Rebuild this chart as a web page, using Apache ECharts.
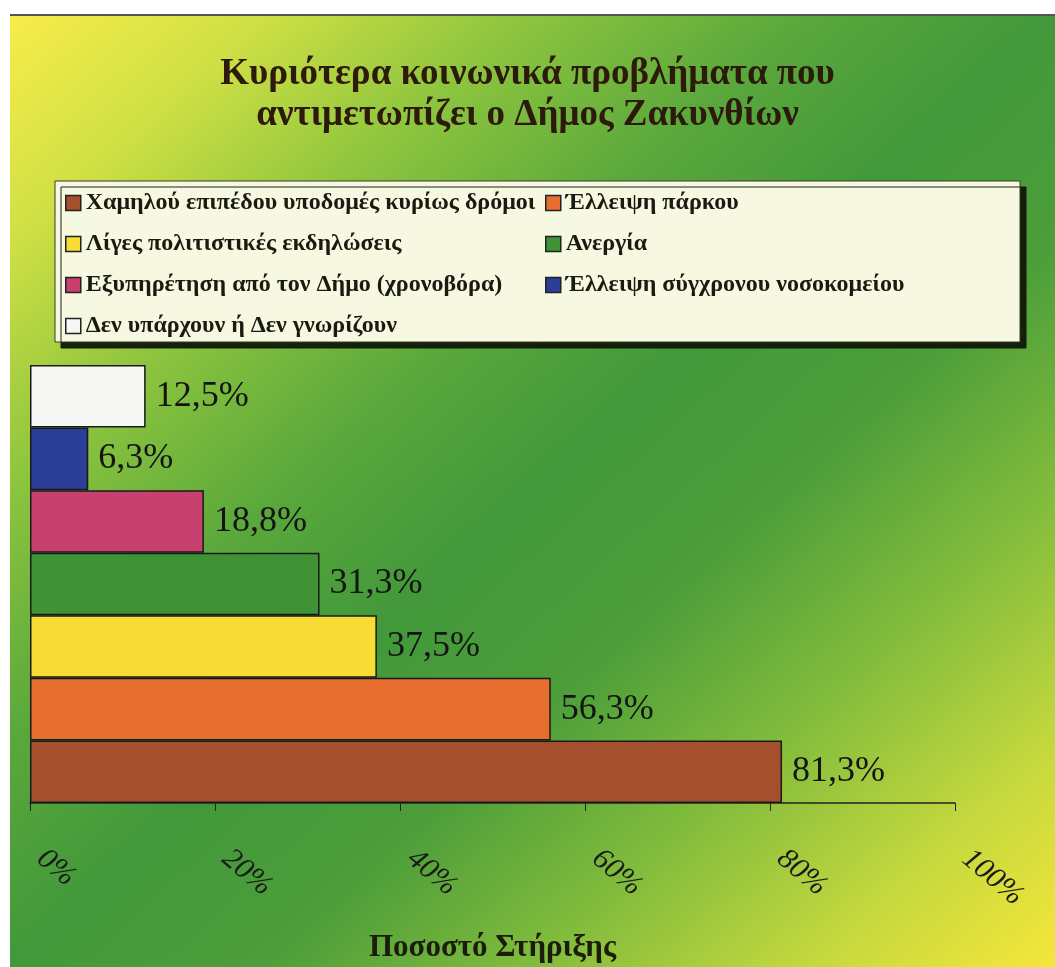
<!DOCTYPE html>
<html lang="el" style="width: 100%;height: 100%;">
<head>
    <meta charset="UTF-8">
    <title>Κυριότερα κοινωνικά προβλήματα</title>
    <script type="text/javascript" src="https://cdn.jsdelivr.net/npm/echarts@6/dist/echarts.min.js"></script>
    <style>
        body{
            width:100%;
            height:100%;
            margin: 0;
            background: #fff;
            overflow: hidden;
        }
        #bg{
            position: absolute;
            left: 10px;
            top: 14px;
            right: 0;
            bottom: 0;
            border-top: 2px solid #555;
            background: linear-gradient(to bottom right, #f8ec4a 0%, #cfe044 12%, #8cc43e 25%, #5aa83c 38%, #42983a 50%, #4d9e3a 62%, #82bc3c 75%, #c4d83e 88%, #f6e63a 100%);
        }
        #main{
            position: absolute;
            left: 0;
            top: 0;
            width: 1055px;
            height: 967px;
        }
    </style>
</head>
<body>
<div id="bg"></div>
<div id="main"></div>

<script>
    // κατηγορίες (σειρά όπως στο υπόμνημα, η πρώτη κάτω)
    let categories = [
        'Χαμηλού επιπέδου υποδομές κυρίως δρόμοι',
        'Έλλειψη πάρκου',
        'Λίγες πολιτιστικές εκδηλώσεις',
        'Ανεργία',
        'Εξυπηρέτηση από τον Δήμο (χρονοβόρα)',
        'Έλλειψη σύγχρονου νοσοκομείου',
        'Δεν υπάρχουν ή Δεν γνωρίζουν'
    ];
    // ποσοστά %
    let values = [81.3, 56.3, 37.5, 31.3, 18.8, 6.3, 12.5];
    let barColors = ['#a4502e', '#e66e2e', '#f6dc34', '#3f9236', '#c8406e', '#2c3f98', '#f6f6f4'];
    // άξονας x
    let xMin = 0, xMax = 100, xStep = 20;

    let leftNames = [categories[0], categories[2], categories[4], categories[6]];
    let rightNames = [categories[1], categories[3], categories[5]];

    let serif = 'Liberation Serif';

    function fmtPct(v) {
        return v.toFixed(1).replace('.', ',') + '%';
    }

    let chart = echarts.init(document.getElementById('main'));

    let series = categories.map(function (name, i) {
        return {
            name: name,
            type: 'bar',
            stack: 'all',
            barCategoryGap: '0%',
            itemStyle: {
                color: barColors[i],
                borderColor: '#1a1a1a',
                borderWidth: 1.5
            },
            label: {
                show: true,
                position: 'right',
                distance: 10,
                color: '#141414',
                fontFamily: serif,
                fontSize: 36,
                formatter: function (p) { return fmtPct(p.value); }
            },
            data: categories.map(function (c, j) { return j === i ? values[i] : '-'; })
        };
    });

    let legendCommon = {
        orient: 'vertical',
        top: 186,
        itemGap: 17,
        itemWidth: 15,
        itemHeight: 15,
        icon: 'rect',
        itemStyle: { borderColor: '#222', borderWidth: 1.5 },
        textStyle: {
            fontFamily: serif,
            fontWeight: 'bold',
            fontSize: 24,
            color: '#1a1a10'
        }
    };

    let option = {
        title: {
            text: 'Κυριότερα κοινωνικά προβλήματα που\nαντιμετωπίζει ο Δήμος Ζακυνθίων',
            left: 'center',
            top: 49,
            textStyle: {
                fontFamily: serif,
                fontWeight: 'bold',
                fontSize: 37,
                lineHeight: 41,
                color: '#2e1a0c'
            }
        },
        legend: [
            Object.assign({ left: 60, data: leftNames }, legendCommon),
            Object.assign({ left: 540, data: rightNames }, legendCommon)
        ],
        graphic: [
            {
                type: 'rect',
                z: 1,
                shape: { x: 55, y: 181, width: 965, height: 161 },
                style: {
                    fill: '#f6f8e2',
                    stroke: '#3a3a24',
                    lineWidth: 1,
                    shadowColor: 'rgba(15,25,8,0.95)',
                    shadowOffsetX: 6,
                    shadowOffsetY: 6,
                    shadowBlur: 0
                }
            }
        ],
        grid: {
            left: 30,
            right: 100,
            top: 365,
            bottom: 164
        },
        xAxis: {
            type: 'value',
            min: xMin,
            max: xMax,
            interval: xStep,
            name: 'Ποσοστό Στήριξης',
            nameLocation: 'middle',
            nameGap: 129,
            nameTextStyle: {
                fontFamily: serif,
                fontWeight: 'bold',
                fontSize: 31,
                color: '#1c1c0c'
            },
            axisLine: { show: true, lineStyle: { color: '#222', width: 1.5 } },
            axisTick: { show: true, length: 8, lineStyle: { color: '#222' } },
            splitLine: { show: false },
            axisLabel: {
                rotate: -40,
                margin: 43,
                padding: [0, 0, 0, 14],
                fontFamily: serif,
                fontStyle: 'italic',
                fontSize: 30,
                color: '#1a1a1a',
                formatter: '{value}%'
            }
        },
        yAxis: {
            type: 'category',
            data: categories,
            axisLine: { show: false },
            axisTick: { show: false },
            axisLabel: { show: false }
        },
        series: series
    };

    option && chart.setOption(option);
</script>
</body>
</html>
